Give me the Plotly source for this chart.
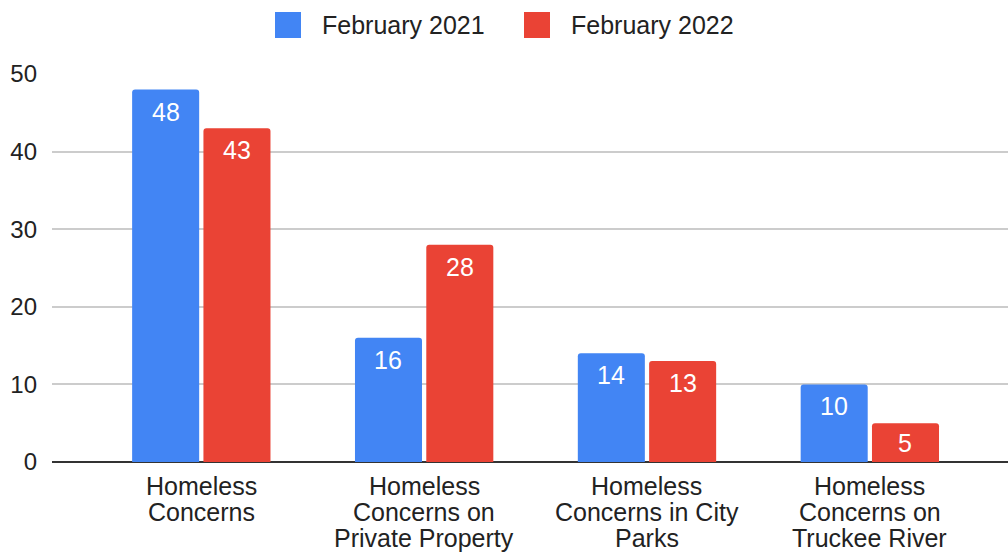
import plotly.graph_objects as go

# ---- data ----
category_lines = [
    ["Homeless", "Concerns"],
    ["Homeless", "Concerns on", "Private Property"],
    ["Homeless", "Concerns in City", "Parks"],
    ["Homeless", "Concerns on", "Truckee River"],
]
series_names = ["February 2021", "February 2022"]
feb_2021 = [48, 16, 14, 10]
feb_2022 = [43, 28, 13, 5]
y_ticks = [0, 10, 20, 30, 40, 50]

# ---- style / layout constants ----
colors = ["#4285F4", "#EA4335"]
W, H = 1008, 554
L, R, T, B = 52, 0, 74, 92
BARGAP = 0.36
BARGROUPGAP = 0.06
XR = [-0.67, 3.62]
YR = [0, 50]
FONT = "Liberation Sans, Arial, sans-serif"
TXT = "#222222"
FS = 25
TICK_FS = 24

plot_w = W - L - R
plot_h = H - T - B
ppu = plot_h / (YR[1] - YR[0])

def px_x(px):
    return (px - L) / plot_w

def px_y(py):
    return (H - B - py) / plot_h

xs = list(range(len(category_lines)))
series = [feb_2021, feb_2022]

fig = go.Figure()
for name, vals, col in zip(series_names, series, colors):
    fig.add_trace(go.Bar(x=xs, y=vals, name=name, marker_color=col,
                         marker_line_width=0, showlegend=False,
                         hoverinfo="x+y+name"))

annotations = []
# data labels
n = len(series)
slot = (1 - BARGAP) / n
for j, vals in enumerate(series):
    for i, v in enumerate(vals):
        annotations.append(dict(
            x=i + (j - (n - 1) / 2) * slot, y=v, xref="x", yref="y",
            text=str(v), showarrow=False, yanchor="middle",
            yshift=-min(22, v * ppu / 2),
            font=dict(family=FONT, size=FS, color="white")))
# category labels (one per line for tight line spacing)
for i, lines in enumerate(category_lines):
    for k, line in enumerate(lines):
        annotations.append(dict(
            x=i, y=0, xref="x", yref="y", text=line, showarrow=False,
            yanchor="middle", yshift=-(24 + 26 * k),
            font=dict(family=FONT, size=FS, color=TXT)))

# custom legend
shapes = []
legend_items = [(275, 320), (524, 569)]
for (sx, tx), name, col in zip(legend_items, series_names, colors):
    shapes.append(dict(type="rect", xref="paper", yref="paper",
                       x0=px_x(sx), x1=px_x(sx + 26), y0=px_y(38), y1=px_y(12),
                       fillcolor=col, line=dict(width=0), layer="above"))
    annotations.append(dict(x=px_x(tx), y=px_y(25), xref="paper", yref="paper",
                            text=name, showarrow=False, xanchor="left",
                            yanchor="middle",
                            font=dict(family=FONT, size=FS, color=TXT)))

fig.update_layout(
    width=W, height=H,
    margin=dict(l=L, r=R, t=T, b=B, pad=0),
    paper_bgcolor="white", plot_bgcolor="white",
    barmode="group", bargap=BARGAP, bargroupgap=BARGROUPGAP,
    barcornerradius=3,
    showlegend=False,
    font=dict(family=FONT, size=FS, color=TXT),
    xaxis=dict(range=XR, showticklabels=False, showgrid=False,
               zeroline=False, ticks="", fixedrange=True),
    yaxis=dict(range=YR, tickvals=y_ticks, showgrid=True,
               gridcolor="#CCCCCC", gridwidth=2, zeroline=True,
               zerolinecolor="#333333", zerolinewidth=2, ticks="",
               ticklabelstandoff=14,
               tickfont=dict(family=FONT, size=TICK_FS, color=TXT)),
    annotations=annotations, shapes=shapes,
)

fig.write_html("out.html")
